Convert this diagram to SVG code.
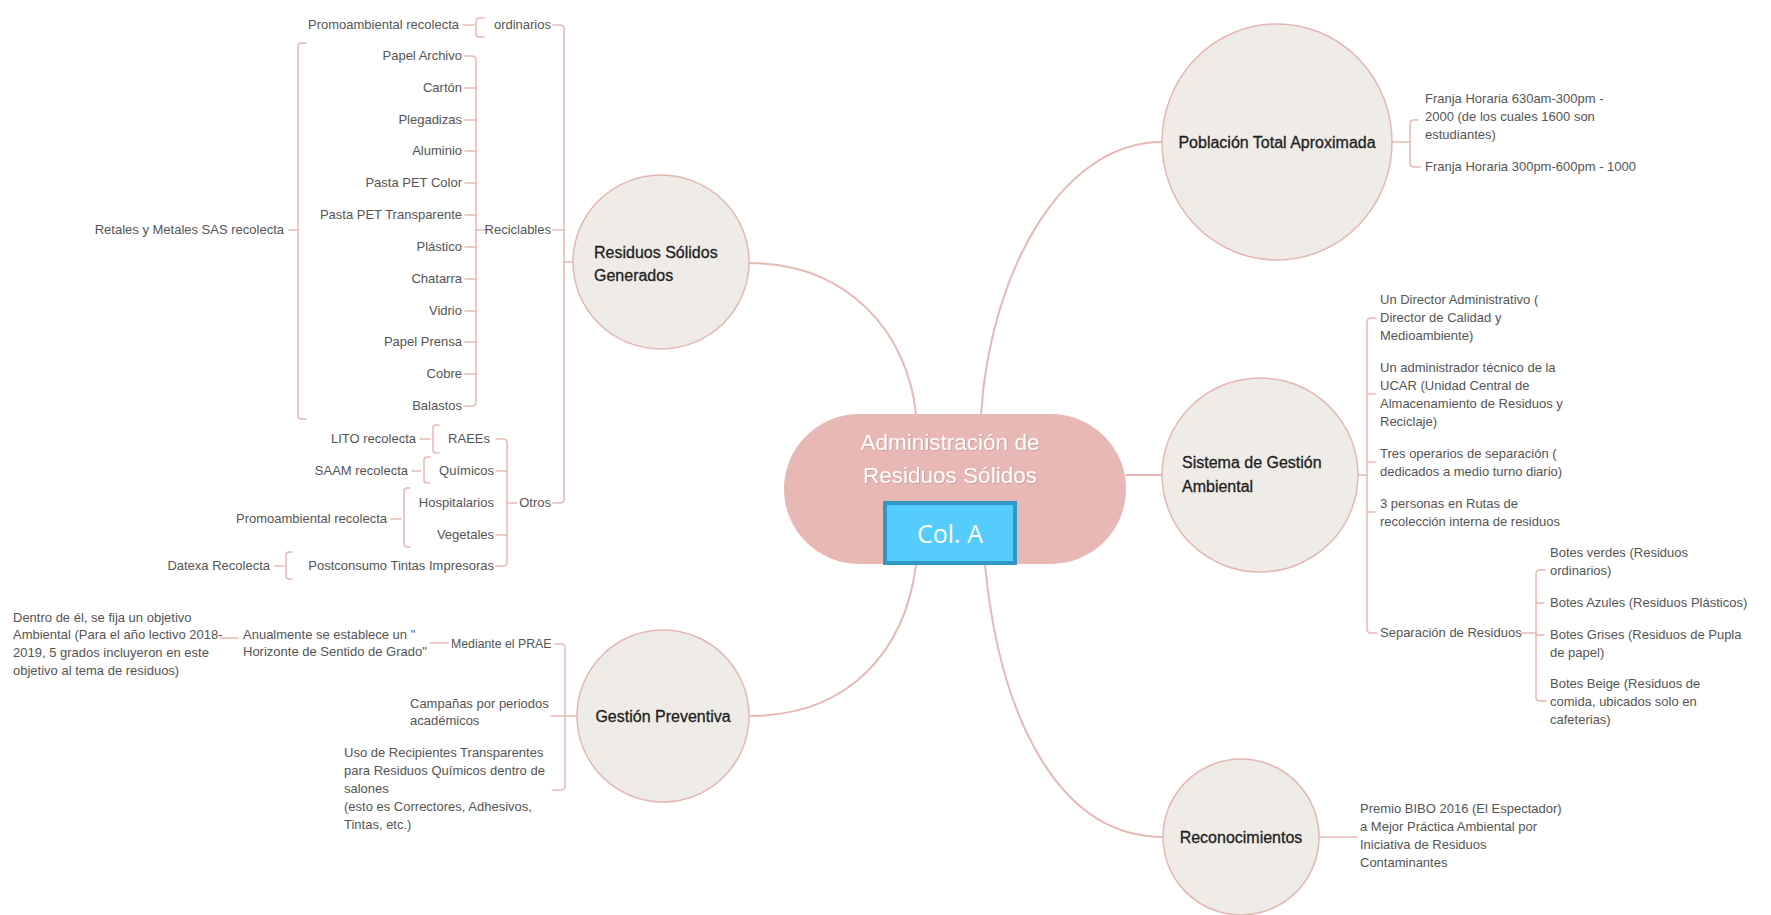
<svg xmlns="http://www.w3.org/2000/svg" width="1771" height="915" viewBox="0 0 1771 915">
  <style>
    .bg { fill: #ffffff; }
    .conn { fill: none; stroke: #e6b9b4; stroke-width: 2; stroke-linecap: round; }
    .br { fill: none; stroke: #e6b9b4; stroke-width: 1.5; stroke-linecap: round; stroke-linejoin: round; }
    .topic { fill: #efebe6; stroke: #e3b7b2; stroke-width: 1.5; }
    .root { fill: #e8b9b4; }
    .tmain { font-family: "Liberation Sans", Arial, sans-serif; font-size: 16px; fill: #1e1e1e; stroke: #1e1e1e; stroke-width: 0.3; }
    .troot { font-family: "Liberation Sans", Arial, sans-serif; font-size: 22.5px; fill: #ffffff; text-anchor: middle; filter: url(#soft-shadow); }
    .t { font-family: "Liberation Sans", Arial, sans-serif; font-size: 13px; fill: #555555; }
    .e { text-anchor: end; }
    .tag { fill: #55cdfc; stroke: #3097c4; stroke-width: 4; }
    .ttag { font-family: "Open Sans", "Liberation Sans", sans-serif; font-size: 25px; fill: #ffffff; text-anchor: middle; }
  </style>
  <defs>
    <filter id="soft-shadow" x="-10%" y="-30%" width="120%" height="160%">
      <feDropShadow dx="0.7" dy="0.7" stdDeviation="0.5" flood-color="#9c7470" flood-opacity="0.55"/>
    </filter>
  </defs>

  <rect class="bg" x="0" y="0" width="1771" height="915"/>

  <!-- connectors -->
  <g id="connectors">
    <!-- root to main topics -->
    <path class="conn" d="M916 414 C 908 335 850 263 749 263"/>
    <path class="conn" d="M981 414 C 990 275 1060 142 1162 142"/>
    <path class="conn" d="M1126 475 H1162"/>
    <path class="conn" d="M916 565 C 905 650 850 716 749 716"/>
    <path class="conn" d="M985 565 C 1000 720 1060 837 1163 837"/>

    <!-- Residuos Sólidos Generados branch -->
    <path class="br" d="M553 25 H560 Q564 25 564 29 V499 Q564 503 560 503 H553"/>
    <path class="br" d="M553 230 H564 M564 262 H573"/>
    <!-- ordinarios summary -->
    <path class="br" d="M463 25 H474"/>
    <path class="br" d="M484 18 H479 Q476 18 476 21 V34 Q476 37 479 37 H484"/>
    <!-- Reciclables -->
    <path class="br" d="M476 230 H489"/>
    <path class="br" d="M465 56 H472 Q476 56 476 60 V402 Q476 406 472 406 H465"/>
    <path class="br" d="M465 88 H476 M465 120 H476 M465 151 H476 M465 183 H476 M465 215 H476 M465 247 H476 M465 279 H476 M465 311 H476 M465 342 H476 M465 374 H476"/>
    <path class="br" d="M289 230 H297"/>
    <path class="br" d="M306 43 H301 Q298 43 298 46 V416 Q298 419 301 419 H306"/>
    <!-- Otros -->
    <path class="br" d="M507 503 H517"/>
    <path class="br" d="M496 439 H503 Q507 439 507 443 V562 Q507 566 503 566 H496"/>
    <path class="br" d="M496 471 H507 M496 535 H507"/>
    <path class="br" d="M420 439 H430"/>
    <path class="br" d="M439 425 H436 Q433 425 433 428 V450 Q433 453 436 453 H439"/>
    <path class="br" d="M412 471 H421"/>
    <path class="br" d="M430 457 H427 Q424 457 424 460 V480 Q424 483 427 483 H430"/>
    <path class="br" d="M391 519 H401"/>
    <path class="br" d="M410 488 H407 Q404 488 404 491 V544 Q404 547 407 547 H410"/>
    <path class="br" d="M275 566 H284"/>
    <path class="br" d="M292 552 H289 Q286 552 286 555 V576 Q286 579 289 579 H292"/>

    <!-- Gestión Preventiva branch -->
    <path class="br" d="M555 644 H561 Q565 644 565 648 V786 Q565 790 561 790 H553"/>
    <path class="br" d="M551 716 H577"/>
    <path class="br" d="M430 643 H448"/>
    <path class="br" d="M220 638 H238"/>

    <!-- Población Total Aproximada branch -->
    <path class="br" d="M1392 142 H1410"/>
    <path class="br" d="M1418 120 H1414 Q1410 120 1410 124 V163 Q1410 167 1414 167 H1420"/>

    <!-- Sistema de Gestión Ambiental branch -->
    <path class="br" d="M1357 475 H1367"/>
    <path class="br" d="M1376 318 H1371 Q1367 318 1367 322 V629 Q1367 633 1371 633 H1377"/>
    <path class="br" d="M1367 394 H1375 M1367 462 H1375 M1367 512 H1375"/>
    <path class="br" d="M1522 633 H1536"/>
    <path class="br" d="M1545 570 H1540 Q1536 570 1536 574 V697 Q1536 701 1540 701 H1546"/>
    <path class="br" d="M1536 603 H1544 M1536 635 H1544"/>

    <!-- Reconocimientos branch -->
    <path class="br" d="M1319 837 H1357"/>
  </g>

  <!-- central topic -->
  <g id="root">
    <rect class="root" x="784" y="414" width="342" height="150" rx="75" ry="75"/>
    <text class="troot" x="950" y="450">Administración de</text>
    <text class="troot" x="950" y="483">Residuos Sólidos</text>
  </g>

  <g id="tag-col-a">
    <rect class="tag" x="885" y="503" width="130" height="60"/>
    <text class="ttag" x="950" y="543">Col. A</text>
  </g>

  <!-- main topics -->
  <g id="residuos-solidos">
    <ellipse class="topic" cx="661" cy="262" rx="88" ry="87"/>
    <text class="tmain" x="594" y="258">Residuos Sólidos</text>
    <text class="tmain" x="594" y="281">Generados</text>
  </g>

  <g id="gestion-preventiva">
    <ellipse class="topic" cx="663" cy="716" rx="86" ry="86"/>
    <text class="tmain" x="663" y="722" text-anchor="middle">Gestión Preventiva</text>
  </g>

  <g id="poblacion">
    <ellipse class="topic" cx="1277" cy="142" rx="115" ry="118"/>
    <text class="tmain" x="1277" y="148" text-anchor="middle">Población Total Aproximada</text>
  </g>

  <g id="sistema-gestion">
    <ellipse class="topic" cx="1260" cy="475" rx="98" ry="97"/>
    <text class="tmain" x="1182" y="468">Sistema de Gestión</text>
    <text class="tmain" x="1182" y="492">Ambiental</text>
  </g>

  <g id="reconocimientos">
    <ellipse class="topic" cx="1241" cy="837" rx="78" ry="78"/>
    <text class="tmain" x="1241" y="843" text-anchor="middle">Reconocimientos</text>
  </g>

  <!-- Residuos Sólidos Generados: subtopics -->
  <g id="ordinarios">
    <text class="t e" x="551" y="29">ordinarios</text>
  </g>
  <g id="ordinarios-recolecta">
    <text class="t e" x="459" y="29">Promoambiental recolecta</text>
  </g>

  <g id="reciclables">
    <text class="t e" x="551" y="234">Reciclables</text>
  </g>
  <g id="reciclables-items">
    <text class="t e" x="462" y="60">Papel Archivo</text>
    <text class="t e" x="462" y="92">Cartón</text>
    <text class="t e" x="462" y="124">Plegadizas</text>
    <text class="t e" x="462" y="155">Aluminio</text>
    <text class="t e" x="462" y="187">Pasta PET Color</text>
    <text class="t e" x="462" y="219">Pasta PET Transparente</text>
    <text class="t e" x="462" y="251">Plástico</text>
    <text class="t e" x="462" y="283">Chatarra</text>
    <text class="t e" x="462" y="315">Vidrio</text>
    <text class="t e" x="462" y="346">Papel Prensa</text>
    <text class="t e" x="462" y="378">Cobre</text>
    <text class="t e" x="462" y="410">Balastos</text>
  </g>
  <g id="reciclables-recolecta">
    <text class="t e" x="284" y="234">Retales y Metales SAS recolecta</text>
  </g>

  <g id="otros">
    <text class="t e" x="551" y="507">Otros</text>
  </g>
  <g id="otros-items">
    <text class="t e" x="490" y="443">RAEEs</text>
    <text class="t e" x="494" y="475">Químicos</text>
    <text class="t e" x="494" y="507">Hospitalarios</text>
    <text class="t e" x="494" y="539">Vegetales</text>
    <text class="t e" x="494" y="570">Postconsumo Tintas Impresoras</text>
  </g>
  <g id="otros-recolecta">
    <text class="t e" x="416" y="443">LITO recolecta</text>
    <text class="t e" x="408" y="475">SAAM recolecta</text>
    <text class="t e" x="387" y="523">Promoambiental recolecta</text>
    <text class="t e" x="270" y="570">Datexa Recolecta</text>
  </g>

  <!-- Gestión Preventiva: subtopics -->
  <g id="mediante-prae">
    <text class="t" x="451" y="648" style="font-size:12.3px">Mediante el PRAE</text>
  </g>
  <g id="horizonte">
    <text class="t" x="243" y="639">Anualmente se establece un "</text>
    <text class="t" x="243" y="656">Horizonte de Sentido de Grado"</text>
  </g>
  <g id="objetivo">
    <text class="t" x="13" y="622">Dentro de él, se fija un objetivo</text>
    <text class="t" x="13" y="639">Ambiental (Para el año lectivo 2018-</text>
    <text class="t" x="13" y="657">2019, 5 grados incluyeron en este</text>
    <text class="t" x="13" y="675">objetivo al tema de residuos)</text>
  </g>
  <g id="campanas">
    <text class="t" x="410" y="708">Campañas por periodos</text>
    <text class="t" x="410" y="725">académicos</text>
  </g>
  <g id="recipientes">
    <text class="t" x="344" y="757">Uso de Recipientes Transparentes</text>
    <text class="t" x="344" y="775">para Residuos Químicos dentro de</text>
    <text class="t" x="344" y="793">salones</text>
    <text class="t" x="344" y="811">(esto es Correctores, Adhesivos,</text>
    <text class="t" x="344" y="829">Tintas, etc.)</text>
  </g>

  <!-- Población Total Aproximada: subtopics -->
  <g id="franja-manana">
    <text class="t" x="1425" y="103">Franja Horaria 630am-300pm -</text>
    <text class="t" x="1425" y="121">2000 (de los cuales 1600 son</text>
    <text class="t" x="1425" y="139">estudiantes)</text>
  </g>
  <g id="franja-tarde">
    <text class="t" x="1425" y="171">Franja Horaria 300pm-600pm - 1000</text>
  </g>

  <!-- Sistema de Gestión Ambiental: subtopics -->
  <g id="director">
    <text class="t" x="1380" y="304">Un Director Administrativo (</text>
    <text class="t" x="1380" y="322">Director de Calidad y</text>
    <text class="t" x="1380" y="340">Medioambiente)</text>
  </g>
  <g id="administrador">
    <text class="t" x="1380" y="372">Un administrador técnico de la</text>
    <text class="t" x="1380" y="390">UCAR (Unidad Central de</text>
    <text class="t" x="1380" y="408">Almacenamiento de Residuos y</text>
    <text class="t" x="1380" y="426">Reciclaje)</text>
  </g>
  <g id="operarios">
    <text class="t" x="1380" y="458">Tres operarios de separación (</text>
    <text class="t" x="1380" y="476">dedicados a medio turno diario)</text>
  </g>
  <g id="rutas">
    <text class="t" x="1380" y="508">3 personas en Rutas de</text>
    <text class="t" x="1380" y="526">recolección interna de residuos</text>
  </g>
  <g id="separacion">
    <text class="t" x="1380" y="637">Separación de Residuos</text>
  </g>
  <g id="botes">
    <text class="t" x="1550" y="557">Botes verdes (Residuos</text>
    <text class="t" x="1550" y="575">ordinarios)</text>
    <text class="t" x="1550" y="607">Botes Azules (Residuos Plásticos)</text>
    <text class="t" x="1550" y="639">Botes Grises (Residuos de Pupla</text>
    <text class="t" x="1550" y="657">de papel)</text>
    <text class="t" x="1550" y="688">Botes Beige (Residuos de</text>
    <text class="t" x="1550" y="706">comida, ubicados solo en</text>
    <text class="t" x="1550" y="724">cafeterias)</text>
  </g>

  <!-- Reconocimientos: subtopic -->
  <g id="premio">
    <text class="t" x="1360" y="813">Premio BIBO 2016 (El Espectador)</text>
    <text class="t" x="1360" y="831">a Mejor Práctica Ambiental por</text>
    <text class="t" x="1360" y="849">Iniciativa de Residuos</text>
    <text class="t" x="1360" y="867">Contaminantes</text>
  </g>
</svg>
